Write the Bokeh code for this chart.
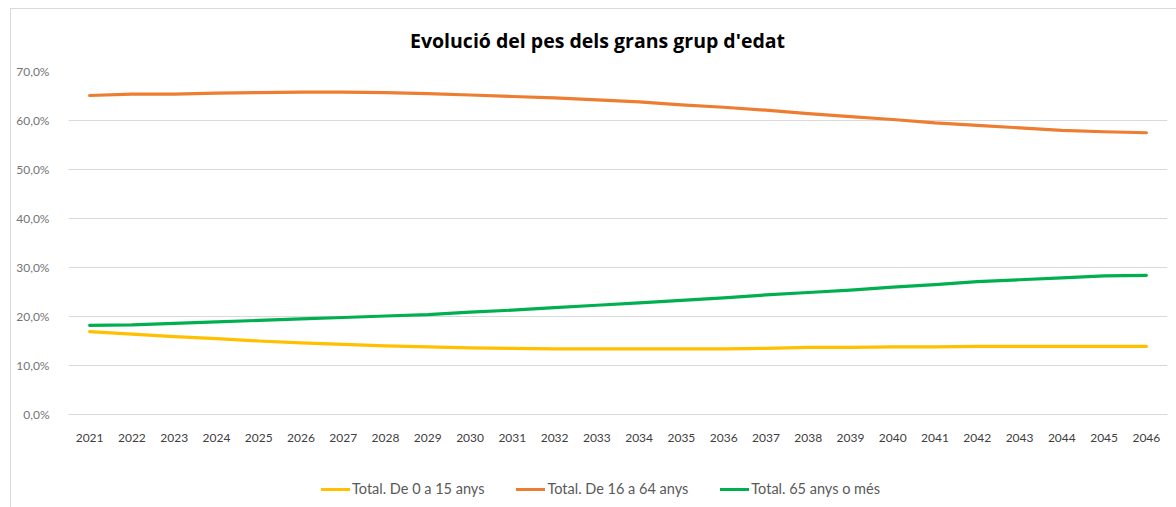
from bokeh.plotting import figure
from bokeh.layouts import column
from bokeh.models import (FactorRange, Range1d, FixedTicker, CustomJSTickFormatter,
                          Legend, LegendItem, Label, ColumnDataSource)
from bokeh.embed import file_html
from bokeh.resources import INLINE

title_text = "Evolució del pes dels grans grup d'edat"
years = [str(y) for y in range(2021, 2047)]

series_names = ["Total. De 0 a 15 anys", "Total. De 16 a 64 anys", "Total. 65 anys o més"]
young = [16.9, 16.4, 15.9, 15.5, 15.0, 14.6, 14.3, 14.0, 13.8, 13.6, 13.5, 13.4, 13.4,
         13.4, 13.4, 13.4, 13.5, 13.7, 13.7, 13.8, 13.8, 13.9, 13.9, 13.9, 13.9, 13.9]
adult = [65.1, 65.4, 65.4, 65.6, 65.7, 65.8, 65.8, 65.7, 65.5, 65.2, 64.9, 64.6, 64.2,
         63.8, 63.2, 62.7, 62.1, 61.4, 60.8, 60.2, 59.5, 59.0, 58.5, 58.0, 57.7, 57.5]
senior = [18.2, 18.3, 18.6, 18.9, 19.2, 19.5, 19.8, 20.1, 20.4, 20.9, 21.3, 21.8, 22.3,
          22.8, 23.3, 23.8, 24.4, 24.9, 25.4, 26.0, 26.5, 27.1, 27.5, 27.9, 28.3, 28.4]
y_ticks = [0, 10, 20, 30, 40, 50, 60, 70]
colors = ["#FFC000", "#ED7D31", "#00B050"]

FONT = "Lato"
x_range = FactorRange(*years, range_padding=0)

# title strip
tf = figure(width=1166, height=52, x_range=Range1d(0, 1), y_range=Range1d(0, 1),
            x_axis_type=None, y_axis_type=None, output_backend="svg", toolbar_location=None,
            min_border_left=57, min_border_right=10, min_border_top=0, min_border_bottom=0)
tf.outline_line_color = None
tf.grid.visible = False
tf.add_layout(Label(x=529, y=21.5, x_units="screen", y_units="screen", text=title_text,
                    text_align="center", text_baseline="middle", text_font="Open Sans",
                    text_font_size="19.5px", text_font_style="bold", text_color="#000000"))

# main chart
p = figure(width=1166, height=399, x_range=x_range,
           y_range=Range1d(0, 70), output_backend="svg", toolbar_location=None,
           min_border_left=57, min_border_right=10, min_border_top=10, min_border_bottom=46)
p.title = None
p.outline_line_color = None

p.xgrid.grid_line_color = None
p.ygrid.grid_line_color = "#D9D9D9"
p.ygrid.grid_line_width = 1

p.yaxis.ticker = FixedTicker(ticks=y_ticks)
p.yaxis.formatter = CustomJSTickFormatter(code="return tick.toFixed(1).replace('.', ',') + '%';")
p.yaxis.axis_line_color = None
p.yaxis.major_tick_line_color = None
p.yaxis.minor_tick_line_color = None
p.yaxis.major_label_text_font = FONT
p.yaxis.major_label_text_font_size = "12px"
p.yaxis.major_label_text_color = "#757575"
p.yaxis.major_label_standoff = 13

p.xaxis.axis_line_color = "#D9D9D9"
p.xaxis.major_tick_line_color = None
p.xaxis.minor_tick_line_color = None
p.xaxis.major_label_text_font = FONT
p.xaxis.major_label_text_font_size = "12px"
p.xaxis.major_label_text_color = "#404040"
p.xaxis.major_label_standoff = 13

# legend strip below the chart (same series, drawn outside its visible y range)
lg = figure(width=1166, height=47, x_range=x_range, y_range=Range1d(-200, -100),
            output_backend="svg", toolbar_location=None,
            min_border_left=57, min_border_right=10, min_border_top=0, min_border_bottom=0)
lg.outline_line_color = None
lg.axis.visible = False
lg.grid.visible = False

items = []
for name, vals, col in zip(series_names, [young, adult, senior], colors):
    src = ColumnDataSource(dict(x=years, y=vals))
    p.line("x", "y", source=src, line_color=col, line_width=3.2,
           line_cap="round", line_join="round")
    r = lg.line("x", "y", source=src, line_color=col, line_width=3.2, line_cap="round")
    items.append(LegendItem(label=name, renderers=[r]))

legend = Legend(items=items, orientation="horizontal", location=(253, 10),
                glyph_width=29, glyph_height=14, label_standoff=2, spacing=32,
                padding=0, margin=0, border_line_color=None, background_fill_alpha=0,
                label_text_font=FONT, label_text_font_size="14.5px",
                label_text_color="#595959")
lg.add_layout(legend, "center")

layout = column(tf, p, lg, spacing=0)
layout.styles = {"border-left": "1px solid #D9D9D9", "border-top": "1px solid #D9D9D9",
                 "margin-left": "10px", "margin-top": "8px"}

open("out.html", "w").write(file_html(layout, INLINE))
